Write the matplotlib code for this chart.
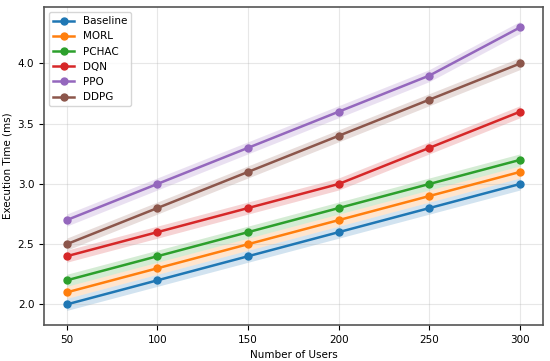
import matplotlib
matplotlib.use("Agg")
import matplotlib.pyplot as plt
import numpy as np

users = [50, 100, 150, 200, 250, 300]
baseline = [2.0, 2.2, 2.4, 2.6, 2.8, 3.0]
morl = [2.1, 2.3, 2.5, 2.7, 2.9, 3.1]
pchac = [2.2, 2.4, 2.6, 2.8, 3.0, 3.2]
dqn = [2.4, 2.6, 2.8, 3.0, 3.3, 3.6]
ppo = [2.7, 3.0, 3.3, 3.6, 3.9, 4.3]
ddpg = [2.5, 2.8, 3.1, 3.4, 3.7, 4.0]

series = [("Baseline", baseline), ("MORL", morl), ("PCHAC", pchac),
          ("DQN", dqn), ("PPO", ppo), ("DDPG", ddpg)]
band = 0.05

plt.rcParams['font.size'] = 7.5
fig, ax = plt.subplots(figsize=(5.5, 3.61), dpi=100)
fig.subplots_adjust(left=0.08, right=0.987, top=0.981, bottom=0.1)

for name, vals in series:
    vals = np.array(vals)
    line, = ax.plot(users, vals, marker='o', markersize=5, linewidth=1.8, label=name)
    ax.fill_between(users, vals - band, vals + band, color=line.get_color(), alpha=0.2, linewidth=0)

ax.set_xlabel("Number of Users")
ax.set_ylabel("Execution Time (ms)")
ax.set_xticks(users)
ax.set_yticks([2.0, 2.5, 3.0, 3.5, 4.0])
ax.grid(True, alpha=0.3)
for s in ax.spines.values():
    s.set_color('#555555')
    s.set_linewidth(1.2)
ax.legend(loc='upper left')

plt.savefig("out.png", dpi=100)
